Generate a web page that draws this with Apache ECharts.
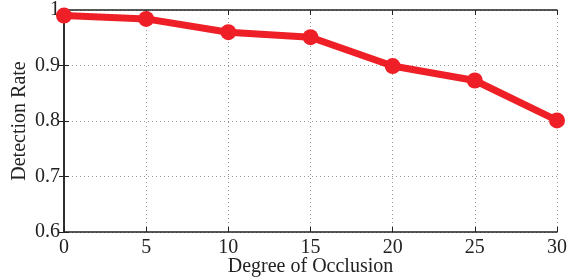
<!DOCTYPE html>
<html><head><meta charset="utf-8">
<script src="https://cdn.jsdelivr.net/npm/echarts@6/dist/echarts.min.js"></script>
<style>html,body{margin:0;padding:0;background:#fff}#c{width:568px;height:277px}</style>
</head><body><div id="c"></div>
<script>
const occlusion = [0, 5, 10, 15, 20, 25, 30];
const detectionRate = [0.990, 0.984, 0.960, 0.951, 0.899, 0.873, 0.801];
const xTitle = 'Degree of Occlusion';
const yTitle = 'Detection Rate';

const font = 'Liberation Serif, Times New Roman, serif';
const chart = echarts.init(document.getElementById('c'));
const gridLine = {show: true, lineStyle: {color: '#999', type: [1, 3], width: 1}};
chart.setOption({
  animation: false,
  grid: {left: 64, right: 11, top: 10, bottom: 45, containLabel: false, outerBoundsMode: 'none'},
  xAxis: [{
    type: 'value', min: 0, max: 30, interval: 5,
    name: xTitle, nameLocation: 'middle', nameGap: 25, nameMoveOverlap: false,
    nameTextStyle: {fontFamily: font, fontSize: 20, color: '#222'},
    axisLine: {show: true, lineStyle: {color: '#222', width: 1.5}},
    axisTick: {show: true, inside: true, length: 5, lineStyle: {color: '#222'}},
    axisLabel: {fontFamily: font, fontSize: 20, color: '#222', margin: 6},
    splitLine: gridLine
  }, {
    type: 'value', min: 0, max: 30, interval: 5, position: 'top',
    axisLine: {show: true, lineStyle: {color: '#222', width: 1.5}},
    axisTick: {show: true, inside: true, length: 5, lineStyle: {color: '#222'}},
    axisLabel: {show: false}, splitLine: {show: false}
  }],
  yAxis: [{
    type: 'value', min: 0.6, max: 1, interval: 0.1,
    name: yTitle, nameLocation: 'middle', nameGap: 34, nameMoveOverlap: false,
    nameTextStyle: {fontFamily: font, fontSize: 20, color: '#222'},
    axisLine: {show: true, lineStyle: {color: '#222', width: 1.5}},
    axisTick: {show: true, inside: true, length: 5, lineStyle: {color: '#222'}},
    axisLabel: {fontFamily: font, fontSize: 20, color: '#222', margin: 4,
      formatter: v => String(Math.round(v * 10) / 10)},
    splitLine: gridLine
  }, {
    type: 'value', min: 0.6, max: 1, interval: 0.1, position: 'right',
    axisLine: {show: true, lineStyle: {color: '#222', width: 1.5}},
    axisTick: {show: true, inside: true, length: 5, lineStyle: {color: '#222'}},
    axisLabel: {show: false}, splitLine: {show: false}
  }],
  series: [{
    type: 'line',
    data: occlusion.map((x, i) => [x, detectionRate[i]]),
    clip: false,
    symbol: 'circle', symbolSize: 16,
    lineStyle: {color: '#ee1f26', width: 7},
    itemStyle: {color: '#ee1f26'}
  }]
});
</script></body></html>
